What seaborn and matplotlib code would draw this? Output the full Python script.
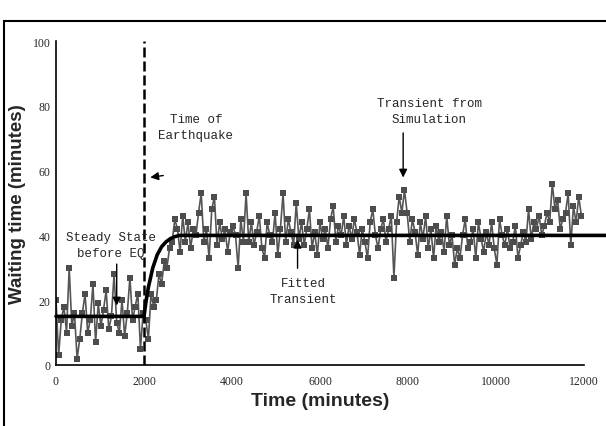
import numpy as np
import pandas as pd
import matplotlib
matplotlib.use("Agg")
import matplotlib.pyplot as plt
import seaborn as sns
from matplotlib.patches import Rectangle

# ---- data ----
time_step = 60  # minutes between observations
waiting_time = [
    # 0 - 1980 (steady state before EQ)
    20, 3, 14, 18, 10, 30, 12, 16, 2, 8, 16, 22, 10, 14, 25, 7, 19, 12, 17, 23,
    11, 15, 28, 13, 10, 20, 9, 16, 27, 14, 18, 22, 5, 16,
    # 2040 - 3960
    14, 8, 22, 18, 20, 28, 25, 32, 30, 36, 38, 45, 42, 35, 46, 38, 44, 36, 42, 40,
    47, 53, 38, 42, 33, 48, 52, 37, 44, 39, 42, 35, 41,
    # 4020 - 5940
    43, 40, 30, 45, 38, 53, 38, 44, 37, 41, 46, 36, 33, 44, 40, 38, 47, 34, 42, 53,
    38, 45, 41, 37, 50, 39, 44, 37, 42, 48, 36, 41, 34,
    # 6000 - 7920
    44, 39, 42, 36, 45, 49, 38, 43, 40, 46, 37, 43, 39, 45, 41, 34, 42, 38, 33, 44,
    48, 40, 36, 42, 45, 38, 42, 46, 27, 44, 52, 47, 54,
    # 7980 - 9900
    47, 38, 45, 41, 34, 44, 39, 46, 36, 42, 33, 43, 38, 41, 35, 46, 37, 40, 31, 36,
    33, 40, 45, 36, 38, 42, 33, 44, 39, 35, 41, 37, 44,
    # 9960 - 11940
    36, 31, 45, 40, 37, 42, 36, 38, 43, 33, 37, 41, 38, 48, 39, 44, 42, 46, 40, 43,
    47, 44, 56, 48, 51, 42, 45, 47, 53, 37, 49, 44, 52, 46,
]
sample_time = [i * time_step for i in range(len(waiting_time))]

fit_time = [0, 2000, 2050, 2100, 2200, 2300, 2400, 2500, 2600, 2700, 2800, 3000, 12500]
fit_value = [15, 15, 20, 24, 30, 34, 36.5, 38, 39, 39.6, 40, 40, 40]

quake_time = 2000
x_ticks = [0, 2000, 4000, 6000, 8000, 10000, 12000]
y_ticks = [0, 20, 40, 60, 80, 100]

obs = pd.DataFrame({"time": sample_time, "wait": waiting_time})
fit = pd.DataFrame({"time": fit_time, "wait": fit_value})

# ---- drawing ----
sns.set_style("white")
plt.rcParams["font.family"] = ["Liberation Sans", "DejaVu Sans"]

fig = plt.figure(figsize=(6.06, 4.27), dpi=100)
ax = fig.add_axes([0.0924, 0.1429, 0.8713, 0.7587])

sns.lineplot(data=obs, x="time", y="wait", ax=ax, color="#555555", lw=1.2,
             marker="s", markersize=5, markeredgewidth=0, markerfacecolor="#4d4d4d",
             zorder=2)
sns.lineplot(data=fit, x="time", y="wait", ax=ax, color="black", lw=2.6, zorder=3)
for ln in ax.get_lines()[-1:]:
    ln.set_clip_on(False)

ax.vlines(quake_time, 0, 100, colors="black", linestyles=(0, (4, 1.6)), lw=1.8, zorder=4)

ax.set_xlim(0, 12000)
ax.set_ylim(0, 100)
ax.set_xticks(x_ticks)
ax.set_yticks(y_ticks)
ax.set_xticklabels([str(t) for t in x_ticks], fontsize=8.5, family="Liberation Serif")
ax.set_yticklabels([str(t) for t in y_ticks], fontsize=8.5, family="Liberation Serif")
ax.tick_params(axis="both", direction="in", length=3, width=1, color="black", pad=4)
ax.tick_params(axis="x", pad=7)
for s in ["top", "right"]:
    ax.spines[s].set_visible(False)
for s in ["left", "bottom"]:
    ax.spines[s].set_color("black")
    ax.spines[s].set_linewidth(1.2)

ax.set_xlabel("Time (minutes)", fontsize=14, fontweight="bold", labelpad=4)
ax.set_ylabel("Waiting time (minutes)", fontsize=13.5, fontweight="bold", labelpad=5)

mono = "Liberation Mono"
ax.text(3180, 73.5, "Time of\nEarthquake", ha="center", va="center", fontsize=9,
        family=mono, linespacing=1.45)
ax.annotate("", xy=(2080, 57.8), xytext=(2500, 58.6),
            arrowprops=dict(arrowstyle="-|>", color="black", lw=1, mutation_scale=12))

ax.text(1250, 37, "Steady State\nbefore EQ", ha="center", va="center", fontsize=9,
        family=mono, linespacing=1.45, zorder=5)
ax.annotate("", xy=(1380, 17.5), xytext=(1380, 32),
            arrowprops=dict(arrowstyle="-|>", color="black", lw=1, mutation_scale=12), zorder=5)

ax.text(8480, 78.4, "Transient from\nSimulation", ha="center", va="center", fontsize=9,
        family=mono, linespacing=1.45)
ax.annotate("", xy=(7890, 57), xytext=(7890, 72.5),
            arrowprops=dict(arrowstyle="-|>", color="black", lw=1, mutation_scale=12))

ax.text(5620, 22.7, "Fitted\nTransient", ha="center", va="center", fontsize=9,
        family=mono, linespacing=1.45)
ax.annotate("", xy=(5490, 39.5), xytext=(5490, 29),
            arrowprops=dict(arrowstyle="-|>", color="black", lw=1, mutation_scale=12))

fig.patches.append(Rectangle((4 / 606, -0.02), 1.0, 0.9485 + 0.02, transform=fig.transFigure,
                             fill=False, edgecolor="black", lw=1.5, clip_on=False))

fig.savefig("out.png", dpi=100)
